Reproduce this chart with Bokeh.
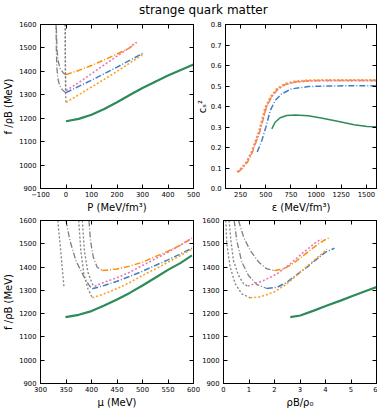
from bokeh.plotting import figure
from bokeh.models import Range1d, LinearAxis, FixedTicker, Label, PrintfTickFormatter
from bokeh.layouts import column, row
from bokeh.embed import file_html
from bokeh.resources import INLINE

# ---------------- data ----------------
# panel (a): f/rho_B vs P
P_green = [0, 50, 100, 150, 200, 250, 300, 350, 400, 450, 500]
F_P_green = [1187, 1197, 1215, 1239, 1268, 1299, 1329, 1356, 1382, 1406, 1429]
P_blue = [0, 50, 100, 150, 200, 250, 305]
F_P_blue = [1309, 1336, 1362, 1390, 1418, 1447, 1479]
P_orange_dd = [0, 50, 100, 150, 200, 250, 278]
F_P_orange_dd = [1386, 1404, 1425, 1449, 1474, 1500, 1524]
P_orange_dot = [0, 50, 100, 150, 200, 250, 300]
F_P_orange_dot = [1268, 1300, 1333, 1366, 1400, 1435, 1472]
P_pink = [0, 50, 100, 150, 200, 250, 273]
F_P_pink = [1318, 1352, 1390, 1428, 1465, 1502, 1524]
P_grey_blue = [0, -5, -15, -25, -32, -36, -38, -39]
F_P_grey_blue = [1309, 1312, 1322, 1340, 1370, 1420, 1500, 1600]
P_grey_orange_dd = [0, -10, -22, -30, -35, -37, -38]
F_P_grey_orange_dd = [1386, 1392, 1410, 1440, 1490, 1550, 1600]
P_grey_orange_dot = [0, -1, -2, -2.5, -3, -3]
F_P_grey_orange_dot = [1268, 1285, 1330, 1400, 1500, 1600]
P_grey_pink = [0, -1, -2, -2.5, -3]
F_P_grey_pink = [1318, 1340, 1400, 1500, 1600]

# panel (b): c_s^2 vs epsilon
E_green = [560, 593, 643, 708, 791, 922, 1050, 1213, 1377, 1508, 1600]
CS_green = [0.291, 0.323, 0.345, 0.356, 0.358, 0.355, 0.344, 0.328, 0.311, 0.303, 0.301]
E_blue = [415, 461, 501, 544, 593, 659, 757, 922, 1100, 1300, 1600]
CS_blue = [0.178, 0.234, 0.299, 0.380, 0.429, 0.462, 0.486, 0.497, 0.500, 0.501, 0.501]
E_orange_dot = [215, 260, 310, 360, 400, 430, 460, 495, 545, 610, 690, 790, 920, 1100, 1300, 1600]
CS_orange_dot = [0.080, 0.100, 0.130, 0.180, 0.235, 0.275, 0.330, 0.395, 0.445, 0.486, 0.511, 0.523, 0.528, 0.529, 0.529, 0.529]
E_pink = [220, 265, 315, 365, 405, 437, 468, 503, 553, 618, 698, 800, 930, 1100, 1300, 1600]
CS_pink = [0.080, 0.100, 0.130, 0.180, 0.235, 0.275, 0.330, 0.395, 0.445, 0.484, 0.508, 0.519, 0.524, 0.526, 0.526, 0.526]
E_orange_dd = [225, 270, 320, 370, 410, 440, 470, 505, 555, 620, 700, 800, 930, 1100, 1300, 1600]
CS_orange_dd = [0.080, 0.100, 0.130, 0.180, 0.235, 0.275, 0.330, 0.395, 0.445, 0.485, 0.509, 0.521, 0.526, 0.527, 0.527, 0.527]

# panel (c): f/rho_B vs mu
MU_green = [349, 375, 400, 425, 450, 475, 500, 525, 550, 575, 597]
F_MU_green = [1185, 1195, 1211, 1235, 1261, 1289, 1321, 1354, 1388, 1418, 1450]
MU_blue = [401.5, 425, 450, 475, 500, 525, 550, 575, 597]
F_MU_blue = [1307, 1321, 1339, 1360, 1382, 1407, 1431, 1457, 1481]
MU_orange_dd = [421, 450, 475, 500, 525, 550, 575, 597]
F_MU_orange_dd = [1385, 1392, 1404, 1421, 1445, 1468, 1495, 1524]
MU_orange_dot = [401.5, 425, 450, 475, 500, 525, 550, 575, 597]
F_MU_orange_dot = [1268, 1285, 1307, 1334, 1364, 1392, 1421, 1450, 1478]
MU_pink = [406, 425, 450, 475, 500, 525, 550, 575, 597]
F_MU_pink = [1317, 1335, 1354, 1378, 1407, 1435, 1464, 1495, 1524]
MU_grey_green = [334, 337, 340, 343, 346]
F_MU_grey_green = [1600, 1530, 1460, 1390, 1315]
MU_grey_blue = [350, 357.6, 369.4, 383.8, 395.6, 401.5]
F_MU_grey_blue = [1600, 1514, 1428, 1364, 1321, 1307]
MU_grey_orange_dd = [395, 398, 403.5, 411, 421]
F_MU_grey_orange_dd = [1600, 1514, 1443, 1400, 1385]
MU_grey_orange_dot = [375, 379, 385, 393, 401.5]
F_MU_grey_orange_dot = [1600, 1471, 1371, 1307, 1268]
MU_grey_pink = [382, 386, 393, 401.5, 406]
F_MU_grey_pink = [1600, 1471, 1378, 1328, 1317]

# panel (d): f/rho_B vs rho_B/rho_0
R_green = [2.62, 3.01, 3.54, 4.06, 4.59, 5.11, 5.63, 6.0]
F_R_green = [1185, 1192, 1213, 1235, 1256, 1278, 1299, 1314]
R_blue = [1.70, 2.10, 2.49, 2.88, 3.28, 3.67, 4.0, 4.35]
F_R_blue = [1308, 1313, 1335, 1368, 1400, 1435, 1464, 1481]
R_orange_dd = [2.0, 2.36, 2.75, 3.14, 3.54, 3.93, 4.15]
F_R_orange_dd = [1385, 1392, 1417, 1450, 1485, 1514, 1526]
R_orange_dot = [1.05, 1.44, 1.97, 2.49, 3.01, 3.54, 3.93, 4.06]
F_R_orange_dot = [1268, 1272, 1292, 1328, 1378, 1428, 1464, 1477]
R_pink = [0.95, 1.57, 2.10, 2.62, 3.14, 3.60, 3.84]
F_R_pink = [1318, 1342, 1371, 1414, 1464, 1504, 1521]
R_grey_blue = [0.42, 0.52, 0.72, 0.98, 1.31, 1.70]
F_R_grey_blue = [1600, 1514, 1421, 1364, 1325, 1308]
R_grey_orange_dd = [0.59, 0.79, 1.05, 1.38, 1.70, 2.0]
F_R_grey_orange_dd = [1600, 1528, 1471, 1421, 1392, 1385]
R_grey_orange_dot = [0.09, 0.13, 0.26, 0.46, 0.72, 1.05]
F_R_grey_orange_dot = [1600, 1500, 1400, 1328, 1285, 1268]
R_grey_pink = [0.22, 0.29, 0.39, 0.59, 0.79, 0.95]
F_R_grey_pink = [1600, 1514, 1428, 1364, 1328, 1318]

# ticks and labels
F_TICKS = [900, 1000, 1100, 1200, 1300, 1400, 1500, 1600]
P_TICKS = [-100, 0, 100, 200, 300, 400, 500]
E_TICKS = [250, 500, 750, 1000, 1250, 1500]
CS_TICKS = [0.0, 0.1, 0.2, 0.3, 0.4, 0.5, 0.6, 0.7, 0.8]
MU_TICKS = [300, 350, 400, 450, 500, 550, 600]
R_TICKS = [0, 1, 2, 3, 4, 5, 6]
TITLE = "strange quark matter"

# ---------------- styles ----------------
FONT = "DejaVu Sans"
C_GREEN = "#2E8B57"
C_BLUE = "#3F7FC4"
C_ORDD = "#FF8C00"
C_ORDOT = "#FFA020"
C_PINK = "#E67AB8"
C_GREY = "#808080"
DD = "6 2 1 2"
DOT = "2 2"


def make_fig(w, h, xr, yr, xt, yt, xlabel, ylabel, bl, br, bt, bb, margin=None,
             xover=None, yfmt=None, label_standoff=2):
    kw = dict(width=w, height=h, x_range=Range1d(*xr), y_range=Range1d(*yr),
              output_backend="svg", toolbar_location=None,
              min_border_left=bl, min_border_right=br, min_border_top=bt,
              min_border_bottom=bb)
    if margin is not None:
        kw["margin"] = margin
    p = figure(**kw)
    p.xgrid.visible = False
    p.ygrid.visible = False
    p.border_fill_alpha = 0
    p.background_fill_color = "white"
    p.outline_line_color = "black"
    p.outline_line_width = 1
    for ax, ticks in ((p.xaxis[0], xt), (p.yaxis[0], yt)):
        ax.ticker = FixedTicker(ticks=ticks, minor_ticks=[])
        ax.major_tick_in = 4
        ax.major_tick_out = 0
        ax.major_tick_line_color = "black"
        ax.minor_tick_line_color = None
        ax.axis_line_color = "black"
        ax.major_label_text_font = FONT
        ax.major_label_text_font_size = "6.8px"
        ax.major_label_text_color = "black"
        ax.axis_label_text_font = FONT
        ax.axis_label_text_font_size = "10px"
        ax.axis_label_text_font_style = "normal"
        ax.axis_label_text_color = "black"
    p.xaxis[0].major_label_standoff = 3
    p.yaxis[0].major_label_standoff = 4
    p.xaxis[0].axis_label_standoff = 2
    p.yaxis[0].axis_label_standoff = label_standoff
    p.xaxis[0].axis_label = xlabel
    if ylabel:
        p.yaxis[0].axis_label = ylabel
    if xover:
        p.xaxis[0].major_label_overrides = xover
    if yfmt:
        p.yaxis[0].formatter = PrintfTickFormatter(format=yfmt)
    for loc, ticks in (("above", xt), ("right", yt)):
        ax = LinearAxis(ticker=FixedTicker(ticks=ticks, minor_ticks=[]),
                        major_label_text_font_size="0px", major_label_text_color=None,
                        major_label_standoff=0,
                        major_tick_in=4, major_tick_out=0,
                        minor_tick_line_color=None, axis_line_color="black",
                        major_tick_line_color="black")
        p.add_layout(ax, loc)
    return p


def draw(p, x, y, color, width, dash):
    p.line(x, y, line_color=color, line_width=width, line_dash=dash)


# title
t = figure(width=378, height=21, x_range=Range1d(0, 378), y_range=Range1d(0, 21),
           output_backend="svg", toolbar_location=None, min_border=0,
           x_axis_location=None, y_axis_location=None)
t.outline_line_color = None
t.xgrid.visible = False
t.ygrid.visible = False
t.add_layout(Label(x=202.8, y=12.0, text=TITLE, text_align="center", text_baseline="middle",
                   text_font=FONT, text_font_size="12px", text_color="black"))

# panel a
pa = make_fig(205, 195, (-100, 500), (900, 1600), P_TICKS, F_TICKS,
              "P (MeV/fm³)", "f /ρB (MeV)", 40, 12, 3, 28, xover={-100: "−100"})
draw(pa, P_grey_blue, F_P_grey_blue, C_GREY, 1.3, DD)
draw(pa, P_grey_orange_dd, F_P_grey_orange_dd, C_GREY, 1.3, DD)
draw(pa, P_grey_orange_dot, F_P_grey_orange_dot, C_GREY, 1.3, DOT)
draw(pa, P_grey_pink, F_P_grey_pink, C_GREY, 1.3, DOT)
draw(pa, P_green, F_P_green, C_GREEN, 2.2, "solid")
draw(pa, P_blue, F_P_blue, C_BLUE, 1.5, DD)
draw(pa, P_orange_dd, F_P_orange_dd, C_ORDD, 1.5, DD)
draw(pa, P_orange_dot, F_P_orange_dot, C_ORDOT, 1.6, DOT)
draw(pa, P_pink, F_P_pink, C_PINK, 1.6, DOT)

# panel b
pb = make_fig(184, 195, (100, 1600), (0, 0.8), E_TICKS, CS_TICKS,
              "ε (MeV/fm³)", "cₛ²", 30, 1, 3, 28, margin=(0, 0, 0, -12),
              yfmt="%.1f", label_standoff=0)
draw(pb, E_green, CS_green, C_GREEN, 1.5, "solid")
draw(pb, E_blue, CS_blue, C_BLUE, 1.5, DD)
draw(pb, E_orange_dd, CS_orange_dd, C_ORDD, 1.5, DD)
draw(pb, E_orange_dot, CS_orange_dot, C_ORDOT, 2.0, DOT)
draw(pb, E_pink, CS_pink, C_PINK, 1.6, DOT)

# panel c
pc = make_fig(205, 195, (300, 600), (900, 1600), MU_TICKS, F_TICKS,
              "μ (MeV)", "f /ρB (MeV)", 40, 12, 4, 28)
draw(pc, MU_grey_green, F_MU_grey_green, C_GREY, 1.3, DOT)
draw(pc, MU_grey_blue, F_MU_grey_blue, C_GREY, 1.3, DD)
draw(pc, MU_grey_orange_dd, F_MU_grey_orange_dd, C_GREY, 1.3, DD)
draw(pc, MU_grey_orange_dot, F_MU_grey_orange_dot, C_GREY, 1.3, DOT)
draw(pc, MU_grey_pink, F_MU_grey_pink, C_GREY, 1.3, DOT)
draw(pc, MU_green, F_MU_green, C_GREEN, 2.2, "solid")
draw(pc, MU_blue, F_MU_blue, C_BLUE, 1.5, DD)
draw(pc, MU_orange_dd, F_MU_orange_dd, C_ORDD, 1.5, DD)
draw(pc, MU_orange_dot, F_MU_orange_dot, C_ORDOT, 1.6, DOT)
draw(pc, MU_pink, F_MU_pink, C_PINK, 1.6, DOT)

# panel d
pd = make_fig(184, 195, (0, 6), (900, 1600), R_TICKS, F_TICKS,
              "ρB/ρ₀", None, 30, 1, 4, 28, margin=(0, 0, 0, -12))
draw(pd, R_grey_blue, F_R_grey_blue, C_GREY, 1.3, DD)
draw(pd, R_grey_orange_dd, F_R_grey_orange_dd, C_GREY, 1.3, DD)
draw(pd, R_grey_orange_dot, F_R_grey_orange_dot, C_GREY, 1.3, DOT)
draw(pd, R_grey_pink, F_R_grey_pink, C_GREY, 1.3, DOT)
draw(pd, R_green, F_R_green, C_GREEN, 2.2, "solid")
draw(pd, R_blue, F_R_blue, C_BLUE, 1.5, DD)
draw(pd, R_orange_dd, F_R_orange_dd, C_ORDD, 1.5, DD)
draw(pd, R_orange_dot, F_R_orange_dot, C_ORDOT, 1.6, DOT)
draw(pd, R_pink, F_R_pink, C_PINK, 1.6, DOT)

layout = column(t, row(pa, pb), row(pc, pd))
open("out.html", "w").write(file_html(layout, INLINE))
